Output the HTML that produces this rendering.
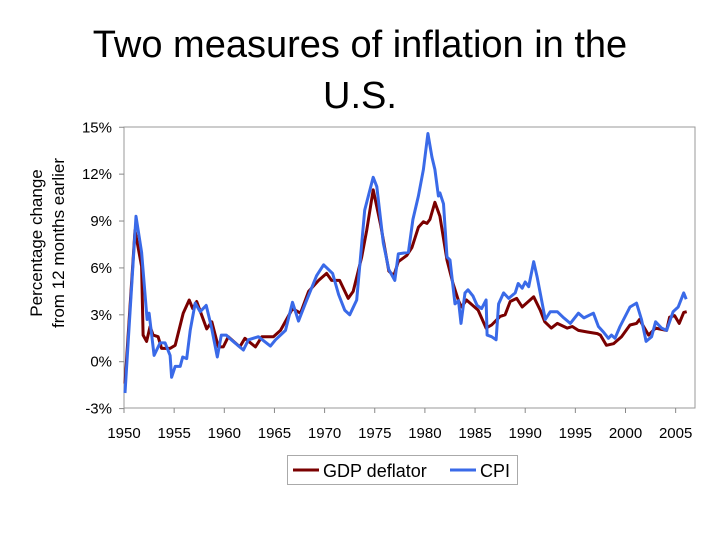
<!DOCTYPE html>
<html><head><meta charset="utf-8"><style>
body{margin:0;background:#fff;width:720px;height:540px;overflow:hidden;font-family:"Liberation Sans",Arial,sans-serif}
</style></head><body>
<svg id="chart" width="720" height="540" font-family="Liberation Sans, Arial, sans-serif">
<text x="360" y="57" font-size="38" text-anchor="middle">Two measures of inflation in the</text>
<text x="360" y="108" font-size="38" text-anchor="middle">U.S.</text>
<g transform="translate(42,243) rotate(-90)">
<text x="0" y="0" font-size="17" text-anchor="middle">Percentage change</text>
<text x="0" y="22" font-size="17" text-anchor="middle">from 12 months earlier</text>
</g>
<rect x="124" y="127" width="571" height="281" fill="none" stroke="#999" stroke-width="1"/>
<g id="axes"></g>
<g id="series"></g>
<g>
<rect x="287.5" y="455.5" width="230" height="29" fill="#fff" stroke="#aaa"/>
<line x1="293" y1="470" x2="319" y2="470" stroke="#7a0000" stroke-width="3"/>
<text x="323" y="477" font-size="18">GDP deflator</text>
<line x1="450" y1="470" x2="476" y2="470" stroke="#3a6ae8" stroke-width="3"/>
<text x="480" y="477" font-size="18">CPI</text>
</g>
</svg>
<script>
const yTicks=[-3,0,3,6,9,12,15];
const xTicks=[1950,1955,1960,1965,1970,1975,1980,1985,1990,1995,2000,2005];
const cpiYears=[1950.1,1951.2,1951.75,1952.3,1952.5,1953.0,1953.6,1954.1,1954.6,1954.75,1955.1,1955.6,1955.85,1956.25,1956.6,1957.1,1957.6,1958.2,1958.7,1959.3,1959.7,1960.2,1960.7,1961.9,1962.4,1963.4,1964.6,1965.1,1966.1,1966.8,1967.4,1968.1,1969.2,1969.9,1970.8,1971.4,1972.0,1972.5,1973.2,1974.0,1974.85,1975.2,1975.85,1976.4,1977.0,1977.35,1978.35,1978.8,1979.35,1979.85,1980.3,1980.7,1981.0,1981.35,1981.5,1981.85,1982.2,1982.5,1983.0,1983.35,1983.6,1984.0,1984.3,1984.8,1985.2,1985.65,1986.1,1986.2,1986.65,1987.1,1987.35,1987.85,1988.35,1989.0,1989.3,1989.7,1990.0,1990.35,1990.85,1991.2,1991.5,1992.0,1992.5,1993.2,1993.85,1994.5,1995.3,1995.85,1996.8,1997.3,1997.8,1998.3,1998.6,1998.95,1999.45,2000.45,2001.1,2001.6,2002.05,2002.6,2003.0,2003.6,2004.1,2004.75,2005.25,2005.8,2006.05];
const cpiValues=[-2.0,9.3,7.0,2.7,3.1,0.4,1.2,1.2,0.4,-1.0,-0.3,-0.3,0.3,0.2,2.0,3.75,3.2,3.6,2.25,0.3,1.7,1.7,1.4,0.75,1.4,1.6,1.0,1.4,2.0,3.8,2.6,3.75,5.5,6.2,5.65,4.3,3.3,3.0,3.95,9.7,11.8,11.2,7.6,5.9,5.2,6.9,7.0,9.1,10.6,12.3,14.6,13.1,12.3,10.6,10.8,10.1,6.7,6.5,3.7,3.9,2.45,4.4,4.6,4.2,3.6,3.4,3.95,1.7,1.6,1.4,3.7,4.4,4.05,4.4,5.0,4.7,5.1,4.8,6.4,5.4,4.4,2.7,3.2,3.2,2.8,2.45,3.1,2.8,3.1,2.25,1.9,1.5,1.7,1.5,2.25,3.5,3.75,2.7,1.3,1.6,2.55,2.15,2.0,3.2,3.5,4.4,4.0];
const gdpYears=[1950.1,1951.1,1951.75,1951.9,1952.25,1952.6,1952.9,1953.4,1953.75,1954.6,1955.1,1955.9,1956.5,1956.85,1957.25,1958.25,1958.75,1959.4,1959.9,1960.4,1961.55,1962.05,1963.1,1963.75,1964.9,1965.6,1966.8,1967.6,1968.4,1969.4,1970.2,1970.7,1971.5,1972.35,1972.85,1973.7,1974.2,1974.85,1975.6,1976.4,1976.9,1977.35,1978.2,1978.7,1979.35,1979.85,1980.2,1980.5,1981.0,1981.5,1982.2,1982.8,1983.35,1983.65,1984.15,1985.3,1986.1,1986.65,1987.5,1988.0,1988.5,1989.15,1989.7,1990.85,1991.5,1991.95,1992.6,1993.2,1994.2,1994.7,1995.3,1996.2,1997.2,1997.5,1998.1,1998.8,1999.6,2000.45,2001.1,2001.4,2002.3,2003.0,2004.1,2004.4,2004.9,2005.35,2005.8,2006.1];
const gdpValues=[-1.4,8.4,6.1,1.7,1.3,2.25,1.7,1.6,0.85,0.85,1.05,3.1,3.95,3.4,3.85,2.1,2.55,0.95,0.95,1.6,0.95,1.5,0.95,1.6,1.6,2.0,3.4,3.1,4.5,5.2,5.65,5.2,5.2,4.05,4.5,6.7,8.4,11.0,8.7,5.8,5.5,6.4,6.8,7.3,8.6,8.95,8.85,9.1,10.2,9.3,6.5,5.0,3.9,3.5,3.95,3.3,2.15,2.35,2.9,3.0,3.85,4.05,3.5,4.15,3.3,2.55,2.15,2.45,2.15,2.25,2.0,1.9,1.8,1.7,1.05,1.15,1.6,2.35,2.45,2.7,1.7,2.15,2.0,2.85,2.95,2.45,3.15,3.2];
const NS='http://www.w3.org/2000/svg';
const X=y=>124+(y-1950)*10.03;
const Y=v=>361.7-v*15.63;
const axes=document.getElementById('axes');
function mk(tag,attrs,parent){const e=document.createElementNS(NS,tag);for(const k in attrs)e.setAttribute(k,attrs[k]);parent.appendChild(e);return e;}
yTicks.forEach(v=>{
  const t=mk('line',{x1:119,x2:124,y1:Y(v),y2:Y(v),stroke:'#888'},axes);
  
  
  const l=mk('text',{x:112,y:Y(v)+5,'font-size':15,'text-anchor':'end'},axes);
  l.textContent=v+'%';
  
  
});
xTicks.forEach(yr=>{
  const t=mk('line',{x1:X(yr),x2:X(yr),y1:408,y2:413,stroke:'#888'},axes);
  
  
  const l=mk('text',{x:X(yr),y:438,'font-size':15,'text-anchor':'middle'},axes);
  l.textContent=yr;
  
  
});
const ser=document.getElementById('series');
function line(xs,vs,color,name){
  const d=xs.map((x,i)=>(i?'L':'M')+X(x).toFixed(1)+' '+Y(vs[i]).toFixed(1)).join(' ');
  const p=mk('path',{d:d,fill:'none',stroke:color,'stroke-width':3,'stroke-linejoin':'round'},ser);
  
  
}
line(gdpYears,gdpValues,'#7a0000','gdp-deflator-line');
line(cpiYears,cpiValues,'#3a6ae8','cpi-line');
</script>
</body></html>
